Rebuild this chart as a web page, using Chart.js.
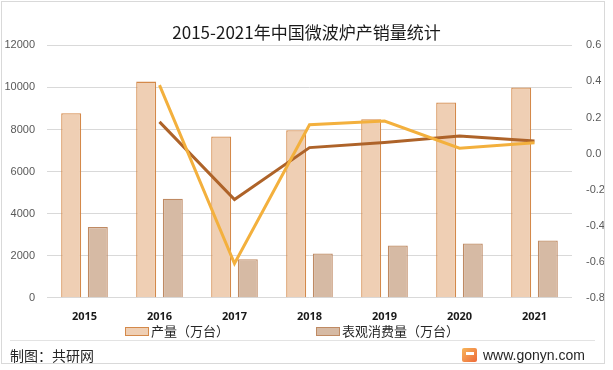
<!DOCTYPE html>
<html>
<head>
<meta charset="utf-8">
<script src="https://cdn.jsdelivr.net/npm/chart.js@4.4.0/dist/chart.umd.min.js"></script>
<style>
html,body{margin:0;padding:0;background:#fff;}
#wrap{position:relative;width:613px;height:370px;overflow:hidden;font-family:"Noto Sans CJK SC","Noto Sans",sans-serif;}
#frame{position:absolute;left:1px;top:1px;width:604px;height:363px;border:1px solid #D9D9D9;box-sizing:border-box;pointer-events:none;}
#sep{position:absolute;left:10px;top:340px;width:585px;height:1px;background:#E3E3E3;}
#src{position:absolute;left:10px;top:345px;font-size:14px;color:#262626;line-height:20px;}
#site{position:absolute;left:483px;top:345px;font-size:14px;color:#262626;line-height:20px;font-family:"Liberation Sans","DejaVu Sans",sans-serif;}
#logo{position:absolute;left:462px;top:348px;width:15px;height:14px;background:linear-gradient(135deg,#F7B65A,#EE6A3A);border-radius:2px;}
#logo:after{content:"";position:absolute;left:4px;top:4px;width:8px;height:3px;background:#fff;}
.lg{position:absolute;top:322px;height:18px;line-height:18px;font-size:13px;color:#262626;white-space:nowrap;}
.lg i{display:inline-block;width:22px;height:7px;vertical-align:middle;margin-right:2px;position:relative;top:-1px;}
canvas{position:absolute;left:0;top:0;}
</style>
</head>
<body>
<div id="wrap">
<canvas id="c" width="613" height="370"></canvas>
<div id="frame"></div>
<div id="sep"></div>
<div id="src">制图：共研网</div>
<div id="logo"></div>
<div id="site">www.gonyn.com</div>
</div>
<script>
const years = ['2015','2016','2017','2018','2019','2020','2021'];
const production = [8780, 10280, 7670, 7970, 8490, 9290, 10000];
const consumption = [3370, 4710, 1830, 2110, 2490, 2580, 2730];
const productionGrowth = [null, 0.38, -0.61, 0.16, 0.18, 0.03, 0.06];
const consumptionGrowth = [null, 0.176, -0.255, 0.033, 0.062, 0.097, 0.07];
const leftTicks = [0, 2000, 4000, 6000, 8000, 10000, 12000];
const rightTicks = [-0.8, -0.6, -0.4, -0.2, 0.0, 0.2, 0.4, 0.6];
const seriesNames = ['产量（万台）', '表观消费量（万台）'];

const chart = new Chart(document.getElementById('c'), {
  data: {
    labels: years,
    datasets: [
      {type:'line', label:'产量增速', data: productionGrowth, yAxisID:'y1', borderColor:'#F3B03D', borderWidth:3, pointRadius:0, fill:false, order:0, tension:0},
      {type:'line', label:'表观消费量增速', data: consumptionGrowth, yAxisID:'y1', borderColor:'#AE6329', borderWidth:3, pointRadius:0, fill:false, order:0, tension:0},
      {type:'bar', label:seriesNames[0], data: production, yAxisID:'y', backgroundColor:'#EFCFB4', borderColor:'#D4894A', borderWidth:1.3, categoryPercentage:0.71, barPercentage:0.75, order:1},
      {type:'bar', label:seriesNames[1], data: consumption, yAxisID:'y', backgroundColor:'#D6BAA4', borderColor:'#BF8A63', borderWidth:1.3, categoryPercentage:0.71, barPercentage:0.75, order:1}
    ]
  },
  options: {
    responsive:false,
    animation:false,
    layout:{padding:{left:0,right:0,top:0,bottom:43}},
    plugins:{
      title:{display:true, text:'2015-2021年中国微波炉产销量统计', color:'#1a1a1a', font:{size:17, family:'"Noto Sans CJK SC", sans-serif', weight:'normal'}, padding:{top:22,bottom:3}},
      legend:{display:false},
      tooltip:{enabled:false}
    },
    scales:{
      x:{grid:{display:false}, border:{display:false},
         ticks:{color:'#1a1a1a', font:{size:11, weight:'bold', family:'"Open Sans", sans-serif'}, padding:4}},
      y:{position:'left', min:0, max:12000,
         afterBuildTicks:(ax)=>{ax.ticks = leftTicks.map(v=>({value:v}));},
         afterFit:(ax)=>{ax.width = 47;},
         grid:{color:'#D9D9D9', drawTicks:false}, border:{display:false},
         ticks:{color:'#595959', font:{size:11, family:'"Liberation Sans", sans-serif'}, padding:12, callback:(v)=>String(v)}},
      y1:{position:'right', min:-0.8, max:0.6,
         afterBuildTicks:(ax)=>{ax.ticks = rightTicks.map(v=>({value:v}));},
         afterFit:(ax)=>{ax.width = 41;},
         grid:{display:false}, border:{display:false},
         ticks:{color:'#595959', font:{size:11, family:'"Liberation Sans", sans-serif'}, padding:6, callback:(v)=>Number(v).toFixed(1)}}
    }
  }
});

// HTML legend built from the bar datasets
const legendLeft = [125, 316];
const wrap = document.getElementById('wrap');
[2,3].forEach((di, k) => {
  const ds = chart.data.datasets[di];
  const el = document.createElement('div');
  el.className = 'lg';
  el.style.left = legendLeft[k] + 'px';
  const sw = document.createElement('i');
  sw.style.background = ds.backgroundColor;
  sw.style.border = '1px solid ' + ds.borderColor;
  el.appendChild(sw);
  el.appendChild(document.createTextNode(ds.label));
  wrap.appendChild(el);
});
</script>
</body>
</html>
